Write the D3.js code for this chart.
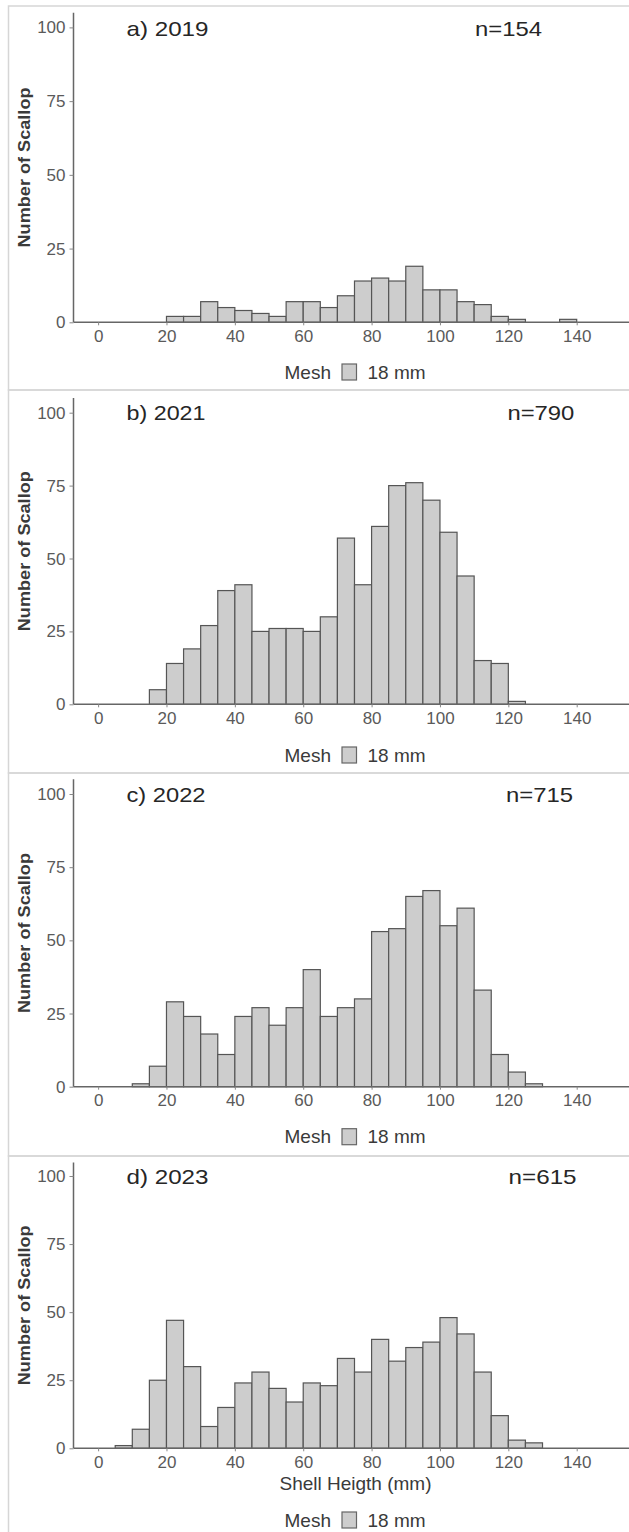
<!DOCTYPE html>
<html>
<head>
<meta charset="utf-8">
<script src="https://cdn.jsdelivr.net/npm/d3@7"></script>
<style>
  html, body { margin: 0; padding: 0; background: #fff; }
  svg { display: block; }
</style>
</head>
<body>
<svg id="chart" width="629" height="1532"></svg>
<script>
// ---- data ----
const binStarts = [5,10,15,20,25,30,35,40,45,50,55,60,65,70,75,80,85,90,95,100,105,110,115,120,125,130,135];
const binWidth = 5;
const panelLabels = ["a) 2019", "b) 2021", "c) 2022", "d) 2023"];
const panelN = ["n=154", "n=790", "n=715", "n=615"];
const counts2019 = [0,0,0,2,2,7,5,4,3,2,7,7,5,9,14,15,14,19,11,11,7,6,2,1,0,0,1];
const counts2021 = [0,0,5,14,19,27,39,41,25,26,26,25,30,57,41,61,75,76,70,59,44,15,14,1,0,0,0];
const counts2022 = [0,1,7,29,24,18,11,24,27,21,27,40,24,27,30,53,54,65,67,55,61,33,11,5,1,0,0];
const counts2023 = [1,7,25,47,30,8,15,24,28,22,17,24,23,33,28,40,32,37,39,48,42,28,12,3,2,0,0];
const xTicks = [0,20,40,60,80,100,120,140];
const yTicks = [0,25,50,75,100];
const yTitle = "Number of Scallop";
const xTitle = "Shell Heigth (mm)";
const legendTitle = "Mesh";
const legendItem = "18 mm";

const seriesList = [counts2019, counts2021, counts2022, counts2023];

// ---- layout (pixels) ----
const layout = [
  {top: 6,    bottom: 390,  y0: 322.3,  y100: 27.4,  titleY: 28,    nX: 475,   nW: 67, tW: 82, legendY: 372},
  {top: 390,  bottom: 773,  y0: 704.3,  y100: 412.7, titleY: 412.7, nX: 507.4, nW: 67, tW: 79, legendY: 755},
  {top: 773,  bottom: 1156, y0: 1086.7, y100: 794,   titleY: 794,   nX: 506,   nW: 67, tW: 79, legendY: 1136.7},
  {top: 1156, bottom: 1540, y0: 1448.3, y100: 1176,  titleY: 1176,  nX: 508.6, nW: 68, tW: 82, legendY: 1520, xTitleY: 1483.5}
];

const svg = d3.select("#chart");
const FONT = "Liberation Sans, Arial, Helvetica, sans-serif";
const axisX0 = 73.5, axisX1 = 629;

const x = d3.scaleLinear().domain([-7.2, 155.3]).range([axisX0, axisX1]);

layout.forEach((L, i) => {
  const counts = seriesList[i];
  const g = svg.append("g");

  // panel frame
  g.append("rect")
    .attr("x", 8.5).attr("y", L.top)
    .attr("width", 640).attr("height", L.bottom - L.top)
    .attr("fill", "none").attr("stroke", "#d6d6d6").attr("stroke-width", 1.5);

  const yTopVal = 105;
  const y = d3.scaleLinear().domain([0, 100]).range([L.y0, L.y100]);

  // bars
  const data = binStarts.map((b, k) => ({x0: b, x1: b + binWidth, c: counts[k]})).filter(d => d.c > 0);
  g.append("g").selectAll("rect").data(data).join("rect")
    .attr("x", d => x(d.x0))
    .attr("y", d => y(d.c))
    .attr("width", d => x(d.x1) - x(d.x0))
    .attr("height", d => y(0) - y(d.c))
    .attr("fill", "#cdcdcd")
    .attr("stroke", "#555")
    .attr("stroke-width", 1.2);

  // x axis
  const xAxis = d3.axisBottom(x).tickValues(xTicks).tickSize(3).tickPadding(5);
  const gx = g.append("g").attr("transform", `translate(0,${L.y0})`).call(xAxis);
  gx.select(".domain").attr("d", `M${axisX0},0H${axisX1}`).attr("stroke", "#666").attr("stroke-width", 1.5);
  gx.selectAll(".tick line").attr("stroke", "#888");
  gx.selectAll(".tick text")
    .attr("font-family", FONT).attr("font-size", 17).attr("fill", "#5a5a5a")
    .attr("dy", null).attr("y", 14).attr("dominant-baseline", "central");

  // y axis
  const yAxis = d3.axisLeft(y).tickValues(yTicks).tickSize(4).tickPadding(4);
  const gy = g.append("g").attr("transform", `translate(${axisX0},0)`).call(yAxis);
  gy.select(".domain").attr("d", `M0,${y(yTopVal)}V${L.y0}`).attr("stroke", "#666").attr("stroke-width", 1.5);
  gy.selectAll(".tick line").attr("stroke", "#888");
  gy.selectAll(".tick text")
    .attr("font-family", FONT).attr("font-size", 17).attr("fill", "#5a5a5a")
    .attr("dy", null).attr("dominant-baseline", "central");

  // y axis title
  const midY = (y(yTopVal) + L.y0) / 2;
  g.append("text")
    .attr("transform", `translate(24,${midY}) rotate(-90)`)
    .attr("text-anchor", "middle").attr("dominant-baseline", "central")
    .attr("font-family", FONT).attr("font-size", 17).attr("font-weight", "bold")
    .attr("fill", "#3a3a3a")
    .attr("textLength", 160).attr("lengthAdjust", "spacingAndGlyphs")
    .text(yTitle);

  // panel title
  g.append("text")
    .attr("x", 126.5).attr("y", L.titleY)
    .attr("dominant-baseline", "central")
    .attr("font-family", FONT).attr("font-size", 21)
    .attr("fill", "#262626")
    .attr("textLength", L.tW).attr("lengthAdjust", "spacingAndGlyphs")
    .text(panelLabels[i]);

  // n label
  g.append("text")
    .attr("x", L.nX).attr("y", L.titleY)
    .attr("dominant-baseline", "central")
    .attr("font-family", FONT).attr("font-size", 21)
    .attr("fill", "#262626")
    .attr("textLength", L.nW).attr("lengthAdjust", "spacingAndGlyphs")
    .text(panelN[i]);

  // x title (last panel)
  if (L.xTitleY) {
    g.append("text")
      .attr("x", 355.5).attr("y", L.xTitleY)
      .attr("text-anchor", "middle").attr("dominant-baseline", "central")
      .attr("font-family", FONT).attr("font-size", 19)
      .attr("fill", "#3a3a3a")
      .text(xTitle);
  }

  // legend
  const lg = g.append("g");
  lg.append("text")
    .attr("x", 284.5).attr("y", L.legendY)
    .attr("dominant-baseline", "central")
    .attr("font-family", FONT).attr("font-size", 19).attr("fill", "#3a3a3a")
    .text(legendTitle);
  lg.append("rect")
    .attr("x", 342).attr("y", L.legendY - 8)
    .attr("width", 14.5).attr("height", 16)
    .attr("fill", "#cdcdcd").attr("stroke", "#666").attr("stroke-width", 1.2);
  lg.append("text")
    .attr("x", 367.5).attr("y", L.legendY)
    .attr("dominant-baseline", "central")
    .attr("font-family", FONT).attr("font-size", 19).attr("fill", "#3a3a3a")
    .text(legendItem);
});
</script>
</body>
</html>
